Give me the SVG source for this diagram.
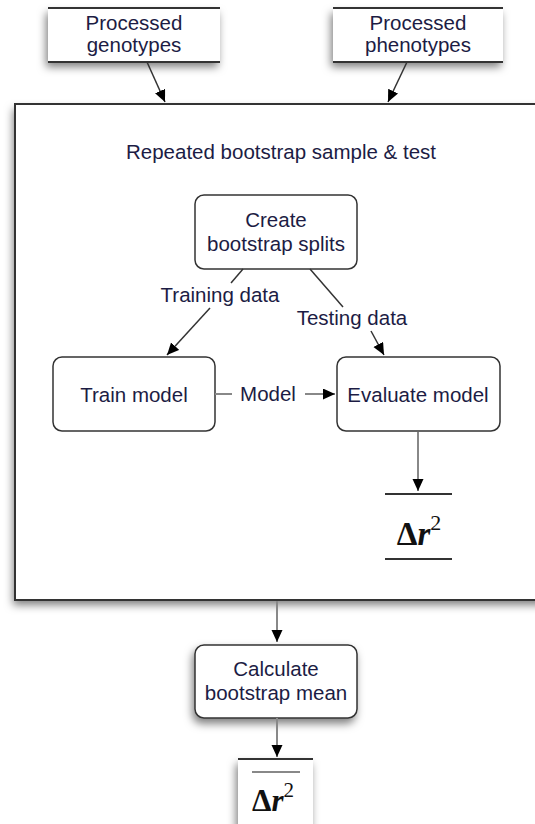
<svg xmlns="http://www.w3.org/2000/svg" width="535" height="824" viewBox="0 0 535 824">
<defs>
<filter id="sh" x="-20%" y="-20%" width="140%" height="150%">
<feDropShadow dx="-2" dy="5" stdDeviation="4" flood-color="#000" flood-opacity="0.5"/>
</filter>
<marker id="ah" markerUnits="userSpaceOnUse" markerWidth="13" markerHeight="12" refX="12" refY="5.5" orient="auto">
<path d="M0,0 L12,5.5 L0,11 z" fill="#000"/>
</marker>
</defs>
<style>
.t{font-family:"Liberation Sans",Arial,sans-serif;font-size:20.5px;fill:#1c1c44;text-anchor:middle}
.m{font-family:"Liberation Serif","Times New Roman",serif;font-weight:bold;fill:#111;text-anchor:middle}
.box{fill:#fff;stroke:#333;stroke-width:1.5}
.edge{fill:none;stroke:#333;stroke-width:1.5}
.gedge{fill:none;stroke:#888;stroke-width:2}
.hl{stroke:#333;stroke-width:2}
</style>
<rect width="535" height="824" fill="#fff"/>

<g id="outer">
<rect x="15" y="104" width="540" height="496" fill="#fff" filter="url(#sh)"/>
<rect x="15" y="104" width="540" height="496" fill="none" stroke="#333" stroke-width="2"/>
<text class="t" x="281" y="159">Repeated bootstrap sample &amp; test</text>
</g>

<g id="genotypes">
<rect x="48" y="8" width="172" height="54" fill="#fff" filter="url(#sh)"/>
<line class="hl" x1="48" y1="8" x2="220" y2="8"/>
<line class="hl" x1="48" y1="62" x2="220" y2="62"/>
<text class="t" x="134" y="30">Processed</text>
<text class="t" x="134" y="52">genotypes</text>
</g>

<g id="phenotypes">
<rect x="333" y="8" width="170" height="54" fill="#fff" filter="url(#sh)"/>
<line class="hl" x1="333" y1="8" x2="503" y2="8"/>
<line class="hl" x1="333" y1="62" x2="503" y2="62"/>
<text class="t" x="418" y="30">Processed</text>
<text class="t" x="418" y="52">phenotypes</text>
</g>

<g id="create">
<rect class="box" x="195" y="195" width="162" height="74" rx="9"/>
<text class="t" x="276" y="227">Create</text>
<text class="t" x="276" y="251">bootstrap splits</text>
</g>

<g id="train">
<rect class="box" x="53" y="357" width="162" height="74" rx="9"/>
<text class="t" x="134" y="402">Train model</text>
</g>

<g id="evaluate">
<rect class="box" x="337" y="357" width="163" height="74" rx="9"/>
<text class="t" x="418" y="402">Evaluate model</text>
</g>

<g id="delta">
<line class="hl" x1="385" y1="494" x2="452" y2="494"/>
<line class="hl" x1="385" y1="559" x2="452" y2="559"/>
<text class="m" x="419" y="545" font-size="33">Δ<tspan font-style="italic">r</tspan><tspan font-size="22" font-weight="normal" dy="-15">2</tspan></text>
</g>

<g id="calculate">
<rect class="box" x="195" y="645" width="162" height="73" rx="9" filter="url(#sh)"/>
<text class="t" x="276" y="676">Calculate</text>
<text class="t" x="276" y="700">bootstrap mean</text>
</g>

<g id="mean">
<rect x="238" y="759" width="75" height="80" fill="#fff" filter="url(#sh)"/>
<line class="hl" x1="238" y1="759" x2="313" y2="759"/>
<line x1="252" y1="772" x2="300" y2="772" stroke="#888" stroke-width="2"/>
<text class="m" x="273" y="811" font-size="31">Δ<tspan font-style="italic">r</tspan><tspan font-size="21" font-weight="normal" dy="-14">2</tspan></text>
</g>

<g id="connectors">
<line class="edge" x1="147" y1="62" x2="165" y2="102" marker-end="url(#ah)"/>
<line class="edge" x1="407" y1="62" x2="388" y2="102" marker-end="url(#ah)"/>
<line class="edge" x1="243" y1="269" x2="231" y2="283"/>
<line class="edge" x1="210" y1="308" x2="167" y2="355" marker-end="url(#ah)"/>
<text class="t" x="220" y="302">Training data</text>
<line class="edge" x1="310" y1="269" x2="343" y2="307"/>
<line class="edge" x1="371" y1="331" x2="384" y2="355" marker-end="url(#ah)"/>
<text class="t" x="352" y="325">Testing data</text>
<line x1="215" y1="394" x2="232" y2="394" stroke="#888" stroke-width="2"/>
<line x1="305" y1="394" x2="335" y2="394" stroke="#888" stroke-width="2" marker-end="url(#ah)"/>
<text class="t" x="268" y="401">Model</text>
<line class="gedge" x1="418" y1="432" x2="418" y2="491" marker-end="url(#ah)"/>
<line class="gedge" x1="277" y1="601" x2="277" y2="642" marker-end="url(#ah)"/>
<line class="gedge" x1="277" y1="718" x2="277" y2="757" marker-end="url(#ah)"/>
</g>
</svg>
